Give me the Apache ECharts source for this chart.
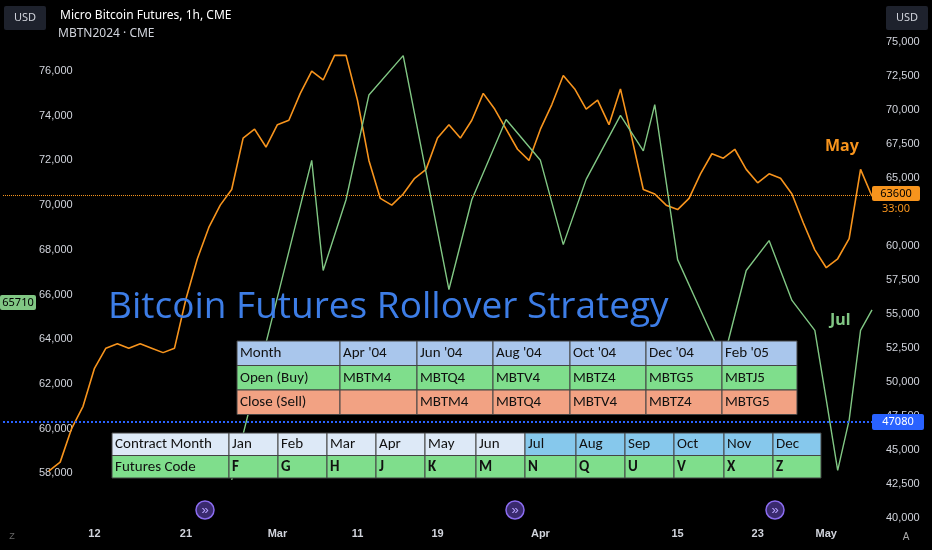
<!DOCTYPE html>
<html>
<head>
<meta charset="utf-8">
<script src="https://cdn.jsdelivr.net/npm/echarts@6/dist/echarts.min.js"></script>
<style>body{margin:0;background:#000}#c{width:932px;height:550px}</style>
</head>
<body>
<div id="c"></div>
<script>
// x positions are bar slots; only a few get date labels
const slotLabels = {8: '12', 16: '21', 24: 'Mar', 31: '11', 38: '19', 47: 'Apr', 59: '15', 66: '23', 72: 'May'};
const slotCount = 77;

// May contract (MBTK2024), left scale
const mayPrices = [null, null, null, null,
  58100, 58500, 60000, 61000, 62700, 63600, 63800, 63600, 63800, 63600, 63400, 63600,
  65800, 67600, 69000, 70000, 70700, 73000, 73400, 72600, 73600, 73800, 75000, 76000,
  75600, 76700, 76700, 74700, 72000, 70300, 70000, 70500, 71200, 71600, 73000, 73600,
  73000, 73800, 75000, 74300, 73400, 72500, 72000, 73400, 74500, 75800, 75200, 74300,
  74700, 73600, 75200, 73000, 70700, 70500, 70000, 69800, 70300, 71400, 72300, 72100,
  72500, 71600, 71000, 71400, 71200, 70500, 69200, 68000, 67200, 67600, 68500, 71600, 70400];

// Jul contract (MBTN2024), right scale, sparse [slot, price]
const julPrices = [[20, 42800], [27, 66300], [28, 58200], [30, 63400], [32, 71100], [35, 74000],
  [39, 56800], [41, 63400], [44, 69300], [47, 66300], [49, 60100], [51, 64900], [54, 69600],
  [56, 67000], [57, 70400], [59, 59000], [61, 55300], [63, 51600], [65, 58200], [67, 60400],
  [69, 56000], [71, 53800], [72, 48700], [73, 43500], [74, 47200], [75, 53800], [76, 55300]];

const rolloverRows = [
  ['Month', "Apr '04", "Jun '04", "Aug '04", "Oct '04", "Dec '04", "Feb '05"],
  ['Open (Buy)', 'MBTM4', 'MBTQ4', 'MBTV4', 'MBTZ4', 'MBTG5', 'MBTJ5'],
  ['Close (Sell)', '', 'MBTM4', 'MBTQ4', 'MBTV4', 'MBTZ4', 'MBTG5']
];
const codeRows = [
  ['Contract Month', 'Jan', 'Feb', 'Mar', 'Apr', 'May', 'Jun', 'Jul', 'Aug', 'Sep', 'Oct', 'Nov', 'Dec'],
  ['Futures Code', 'F', 'G', 'H', 'J', 'K', 'M', 'N', 'Q', 'U', 'V', 'X', 'Z']
];

const font = 'Calibri, "Liberation Sans", "Open Sans", sans-serif';
const graphics = [];

function table(rows, cols, top, h, fillFor, bold) {
  rows.forEach((row, r) => {
    row.forEach((txt, c) => {
      const x = cols[c], w = cols[c + 1] - cols[c], y = top + r * h;
      graphics.push({type: 'rect', shape: {x, y, width: w, height: h},
        style: {fill: fillFor(r, c), stroke: '#444', lineWidth: 1}, z: 10});
      graphics.push({type: 'text', x: x + 3, y: y + h / 2, z: 11,
        style: {text: txt, fill: '#111', font: (bold && r === 1 && c > 0 ? 'bold ' : '') + '15px ' + font, verticalAlign: 'middle'}});
    });
  });
}
table(rolloverRows, [237, 340, 417, 493, 570, 646, 722, 797], 341, 24.5,
  r => ['#a9c6ec', '#7fde8c', '#f2a283'][r]);
table(codeRows, [112, 229, 278, 327, 376, 425, 476, 525, 576, 625, 674, 724, 773, 821], 433, 22.5,
  (r, c) => r === 1 ? '#7fde8c' : (c >= 7 ? '#86c8ec' : '#dde9f7'), true);

function box(x, y, w, h, txt, fill, color) {
  graphics.push({type: 'rect', shape: {x, y, width: w, height: h, r: 2}, style: {fill}, z: 12});
  graphics.push({type: 'text', x: x + w / 2, y: y + h / 2, z: 13,
    style: {text: txt, fill: color, font: '11px "Noto Sans", sans-serif', align: 'center', verticalAlign: 'middle'}});
}
box(4, 6, 42, 24, 'USD', '#1e222d', '#d1d4dc');
box(886, 6, 42, 24, 'USD', '#1e222d', '#d1d4dc');
box(0, 295, 36, 15, '65710', '#81c784', '#000');
box(872, 186, 48, 15, '63600', '#f7941d', '#000');
box(872, 201, 48, 15, '33:00', '#000', '#f7941d');
box(872, 414, 52, 16, '47080', '#2962ff', '#fff');
graphics.push({type: 'text', x: 60, y: 10, style: {text: 'Micro Bitcoin Futures, 1h, CME', fill: '#fff', font: '12px "Noto Sans", sans-serif'}});
graphics.push({type: 'text', x: 58, y: 28, style: {text: 'MBTN2024 · CME', fill: '#d1d4dc', font: '12px "Noto Sans", sans-serif'}});
graphics.push({type: 'text', x: 108, y: 307, z: 9, style: {text: 'Bitcoin Futures Rollover Strategy', fill: '#3d7de6', font: '37px "Open Sans", sans-serif', verticalAlign: 'middle'}});
graphics.push({type: 'text', x: 825, y: 146, style: {text: 'May', fill: '#f7941d', font: 'bold 16px "Noto Sans", sans-serif', verticalAlign: 'middle'}});
graphics.push({type: 'text', x: 830, y: 320, style: {text: 'Jul', fill: '#81c784', font: 'bold 16px "Noto Sans", sans-serif', verticalAlign: 'middle'}});
[205, 515, 775].forEach(x => {
  graphics.push({type: 'circle', shape: {cx: x, cy: 510, r: 9}, style: {fill: '#3a2a6e', stroke: '#8b6cf0', lineWidth: 1.5}, z: 12});
  graphics.push({type: 'text', x, y: 510, z: 13, style: {text: '»', fill: '#b9a6ff', font: '13px sans-serif', align: 'center', verticalAlign: 'middle'}});
});
graphics.push({type: 'text', x: 12, y: 537, style: {text: 'Z', fill: '#666', font: '9px sans-serif', align: 'center', verticalAlign: 'middle'}});
graphics.push({type: 'text', x: 906, y: 537, style: {text: 'A', fill: '#aaa', font: '10px sans-serif', align: 'center', verticalAlign: 'middle'}});

const chart = echarts.init(document.getElementById('c'));
chart.setOption({
  backgroundColor: '#000',
  animation: false,
  grid: {left: 0, right: 60, top: 42, bottom: 32},
  xAxis: {
    type: 'category', boundaryGap: false,
    data: Array.from({length: slotCount}, (_, i) => slotLabels[i] || ''),
    axisLine: {show: false}, axisTick: {show: false},
    axisLabel: {interval: 0, color: '#d1d4dc', fontSize: 11, fontWeight: 'bold', margin: 10,
      formatter: v => v}
  },
  yAxis: [
    {type: 'value', min: 56000, max: 77300, interval: 2000, position: 'left',
      splitLine: {show: false}, axisLine: {show: false},
      axisLabel: {inside: true, margin: 36, color: '#d1d4dc', fontSize: 11, showMinLabel: false, showMaxLabel: false}},
    {type: 'value', min: 40000, max: 75000, interval: 2500, position: 'right',
      splitLine: {show: false}, axisLine: {show: false},
      axisLabel: {color: '#d1d4dc', fontSize: 11, margin: 14}}
  ],
  series: [
    {type: 'line', name: 'May', yAxisIndex: 0, data: mayPrices, showSymbol: false,
      lineStyle: {color: '#f7941d', width: 1.6}, itemStyle: {color: '#f7941d'},
      markLine: {symbol: 'none', silent: true, label: {show: false},
        lineStyle: {color: '#f7941d', type: 'dotted', width: 1}, data: [{yAxis: 70450}]}},
    {type: 'line', name: 'Jul', yAxisIndex: 1, data: julPrices, showSymbol: false, connectNulls: true,
      lineStyle: {color: '#81c784', width: 1.4}, itemStyle: {color: '#81c784'},
      markLine: {symbol: 'none', silent: true, label: {show: false},
        lineStyle: {color: '#2962ff', type: 'dotted', width: 2}, data: [{yAxis: 47080}]}}
  ],
  graphic: graphics
});
</script>
</body>
</html>
